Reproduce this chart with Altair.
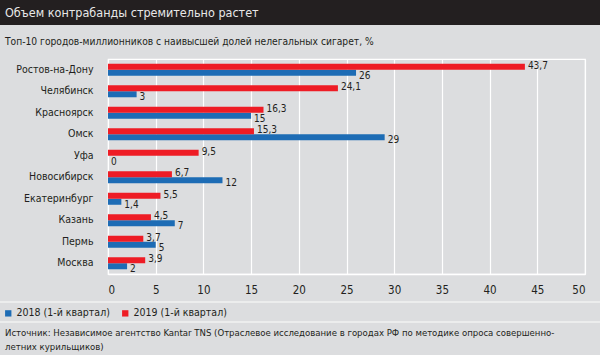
import altair as alt
import pandas as pd

cities = ["Ростов-на-Дону", "Челябинск", "Красноярск", "Омск", "Уфа",
          "Новосибирск", "Екатеринбург", "Казань", "Пермь", "Москва"]
v2018 = [26, 3, 15, 29, 0, 12, 1.4, 7, 5, 2]
v2019 = [43.7, 24.1, 16.3, 15.3, 9.5, 6.7, 5.5, 4.5, 3.7, 3.9]
series = ["2018 (1-й квартал)", "2019 (1-й квартал)"]
colors = ["#1d6cb5", "#ee1c25"]
x_ticks = [0, 5, 10, 15, 20, 25, 30, 35, 40, 45, 50]

title_text = "Объем контрабанды стремительно растет"
subtitle_text = "Топ-10 городов-миллионников с наивысшей долей нелегальных сигарет, %"
source_text = ("Источник: Независимое агентство Kantar TNS (Отраслевое исследование в городах РФ по методике опроса совершенно-\n"
               "летних курильщиков)")

FONT = "'DejaVu Sans Condensed', Roboto, sans-serif"
BG = "#dcdddf"
INK = "#231f20"

rows = []
for c, a, b in zip(cities, v2018, v2019):
    rows.append({"city": c, "series": series[0], "value": a})
    rows.append({"city": c, "series": series[1], "value": b})
df = pd.DataFrame(rows)

W, H = 477, 215
LEFT, TOP = 108, 59

base = alt.Chart(df).transform_calculate(
    label="replace(format(datum.value, '.1~f'), '.', ',')"
)

y_enc = alt.Y("city:N", sort=cities, title=None,
              scale=alt.Scale(paddingInner=0.44, paddingOuter=0.22),
              axis=alt.Axis(domain=False, ticks=False, labelPadding=15,
                            labelFont=FONT, labelFontSize=10.5, labelColor=INK))
yoff = alt.YOffset("series:N", sort=[series[1], series[0]], scale=alt.Scale(paddingInner=0))
x_enc = alt.X("value:Q", title=None,
              scale=alt.Scale(domain=[0, 50], nice=False),
              axis=alt.Axis(values=x_ticks, ticks=False, domain=True, domainColor="white",
                            domainWidth=1.5, gridColor="white", gridWidth=1.2, gridOpacity=1,
                            labelPadding=10, labelFont=FONT, labelFontSize=11.5,
                            labelColor=INK))

bars = base.mark_bar().encode(
    y=y_enc, yOffset=yoff, x=x_enc,
    color=alt.Color("series:N", scale=alt.Scale(domain=series, range=colors),
                    legend=alt.Legend(title=None, orient="none", direction="horizontal",
                                      legendX=-LEFT + 3, legendY=249,
                                      symbolType="square", symbolSize=40,
                                      symbolStrokeWidth=0, labelFont=FONT,
                                      labelFontSize=10.5, labelColor=INK,
                                      columnPadding=10, labelOffset=3))
)

lab19 = base.transform_filter(alt.datum.series == series[1]).mark_text(
    align="left", baseline="middle", dx=3, dy=-1, font=FONT, fontSize=10, color=INK
).encode(y=alt.Y("city:N", sort=cities), yOffset=yoff, x="value:Q", text="label:N")

lab18 = base.transform_filter(alt.datum.series == series[0]).mark_text(
    align="left", baseline="middle", dx=3, dy=3, font=FONT, fontSize=10, color=INK
).encode(y=alt.Y("city:N", sort=cities), yOffset=yoff, x="value:Q", text="label:N")

one = pd.DataFrame({"t": [title_text], "s": [subtitle_text], "src": [source_text]})
ann = alt.Chart(one)

title_bar = ann.mark_rect(color=INK).encode(
    x=alt.value(-LEFT), x2=alt.value(600 - LEFT), y=alt.value(-TOP), y2=alt.value(25 - TOP))
title = ann.mark_text(align="left", baseline="middle", font=FONT, fontSize=12.5,
                      color="#e8e8e8").encode(text="t:N", x=alt.value(5 - LEFT), y=alt.value(13 - TOP))
subtitle = ann.mark_text(align="left", baseline="middle", font=FONT, fontSize=10.2,
                         color=INK).encode(text="s:N", x=alt.value(5 - LEFT), y=alt.value(42 - TOP))
line1 = ann.mark_rule(color="#f2f2f2", strokeWidth=1.5).encode(
    x=alt.value(-LEFT), x2=alt.value(600 - LEFT), y=alt.value(302 - TOP))
line2 = ann.mark_rule(color="#f2f2f2", strokeWidth=1.5).encode(
    x=alt.value(-LEFT), x2=alt.value(600 - LEFT), y=alt.value(322 - TOP))
source = ann.mark_text(align="left", baseline="middle", font=FONT, fontSize=9.5,
                       color=INK, lineBreak="\n", lineHeight=13.5).encode(
    text="src:N", x=alt.value(5 - LEFT), y=alt.value(333 - TOP))

chart = alt.layer(title_bar, title, subtitle, line1, line2, source, bars, lab19, lab18).properties(
    width=W, height=H,
    background=BG,
    padding={"left": LEFT, "top": TOP, "right": 600 - LEFT - W, "bottom": 355 - TOP - H},
    autosize=alt.AutoSizeParams(type="none"),
).configure_view(stroke="white", strokeWidth=1.2)

chart.save("out.html", embed_options={"renderer": "svg", "actions": False})
